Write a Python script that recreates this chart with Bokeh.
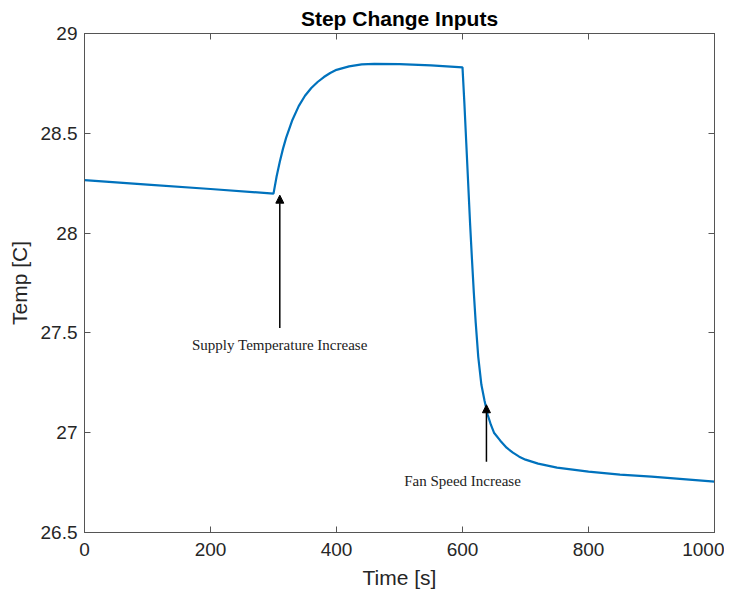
from bokeh.plotting import figure
from bokeh.models import FixedTicker, LinearAxis, Arrow, NormalHead, Label, Range1d
from bokeh.embed import file_html
from bokeh.resources import INLINE

time_s = [0, 100, 200, 300, 305, 310, 315, 320, 330, 340, 350, 360, 370, 380, 390, 400,
          420, 440, 460, 500, 550, 600, 603, 606, 609, 612, 615, 618, 621, 625, 630, 635,
          640, 645, 650, 660, 670, 680, 690, 700, 720, 750, 800, 850, 900, 1000]
temp_c = [28.265, 28.243, 28.221, 28.198, 28.285, 28.358, 28.422, 28.477, 28.567, 28.636,
          28.688, 28.727, 28.757, 28.782, 28.802, 28.818, 28.835, 28.845, 28.848, 28.847,
          28.84, 28.83, 28.65, 28.45, 28.25, 28.05, 27.87, 27.7, 27.55, 27.38, 27.24, 27.16,
          27.09, 27.04, 27.0, 26.96, 26.925, 26.9, 26.88, 26.865, 26.845, 26.825, 26.805,
          26.79, 26.78, 26.755]

x_ticks = [0, 200, 400, 600, 800, 1000]
y_ticks = [26.5, 27, 27.5, 28, 28.5, 29]
y_tick_labels = ["26.5", "27", "27.5", "28", "28.5", "29"]

ann1_text = "Supply Temperature Increase"
ann1_x, ann1_tail, ann1_head, ann1_ty = 310, 27.525, 28.19, 27.44
ann2_text = "Fan Speed Increase"
ann2_x, ann2_tail, ann2_head, ann2_ty = 638, 26.855, 27.14, 26.76
ann2_tx = 600

AX = "#262626"
FR = "#555555"
p = figure(frame_width=630, frame_height=499, output_backend="svg", toolbar_location=None,
           x_range=Range1d(0, 1000), y_range=Range1d(26.5, 29),
           title="Step Change Inputs",
           min_border_left=84, min_border_right=10, min_border_top=29, min_border_bottom=55)
p.title.align = "center"
p.title.text_font = "Liberation Sans"
p.title.text_font_size = "21px"
p.title.text_font_style = "bold"
p.title.text_color = "black"
p.title.standoff = 8
p.xgrid.visible = False
p.ygrid.visible = False
p.outline_line_color = FR
p.outline_line_width = 1

for ax in [p.xaxis[0], p.yaxis[0]]:
    ax.major_label_text_font = "Liberation Sans"
    ax.major_label_text_font_size = "19px"
    ax.major_label_text_color = AX
    ax.axis_label_text_font = "Liberation Sans"
    ax.axis_label_text_font_size = "21px"
    ax.axis_label_text_font_style = "normal"
    ax.axis_label_text_color = AX
    ax.major_tick_in = 6
    ax.major_tick_out = 0
    ax.minor_tick_line_color = None
    ax.axis_line_color = FR
    ax.major_tick_line_color = FR

p.xaxis[0].ticker = FixedTicker(ticks=x_ticks)
p.yaxis[0].ticker = FixedTicker(ticks=y_ticks)
p.yaxis[0].major_label_overrides = {t: l for t, l in zip(y_ticks, y_tick_labels)}
p.xaxis[0].axis_label = "Time [s]"
p.yaxis[0].axis_label = "Temp [C]"
p.xaxis[0].major_label_standoff = 10
p.xaxis[0].axis_label_standoff = 7
p.yaxis[0].major_label_standoff = 7
p.yaxis[0].axis_label_standoff = 7

top = LinearAxis(ticker=FixedTicker(ticks=x_ticks), major_label_text_color=None,
                 major_tick_in=6, major_tick_out=0, minor_tick_line_color=None,
                 axis_line_color=FR, major_tick_line_color=FR)
right = LinearAxis(ticker=FixedTicker(ticks=y_ticks), major_label_text_color=None,
                   major_tick_in=6, major_tick_out=0, minor_tick_line_color=None,
                   axis_line_color=FR, major_tick_line_color=FR)
p.add_layout(top, "above")
p.add_layout(right, "right")

p.line(time_s, temp_c, line_color="#0072BD", line_width=2.2)

p.add_layout(Arrow(end=NormalHead(size=8, fill_color="black", line_color="black"),
                   x_start=ann1_x, y_start=ann1_tail, x_end=ann1_x, y_end=ann1_head,
                   line_color="black", line_width=1.5))
p.add_layout(Arrow(end=NormalHead(size=8, fill_color="black", line_color="black"),
                   x_start=ann2_x, y_start=ann2_tail, x_end=ann2_x, y_end=ann2_head,
                   line_color="black", line_width=1.5))
p.add_layout(Label(x=ann1_x, y=ann1_ty, text=ann1_text, text_align="center",
                   text_baseline="middle", text_font="Liberation Serif",
                   text_font_size="15px", text_color="#222222"))
p.add_layout(Label(x=ann2_tx, y=ann2_ty, text=ann2_text, text_align="center",
                   text_baseline="middle", text_font="Liberation Serif",
                   text_font_size="15px", text_color="#222222"))

open("out.html", "w").write(file_html(p, INLINE))
